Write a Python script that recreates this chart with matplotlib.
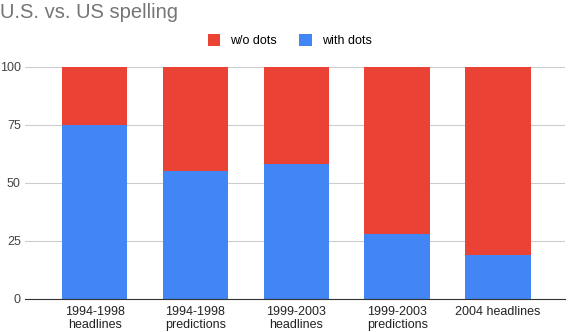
import numpy as np
import matplotlib
matplotlib.use("Agg")
import matplotlib.pyplot as plt

plt.rcParams["font.family"] = ["Liberation Sans", "DejaVu Sans"]

# data
categories = ["1994-1998\nheadlines", "1994-1998\npredictions", "1999-2003\nheadlines",
              "1999-2003\npredictions", "2004 headlines"]
with_dots = [75, 55, 58, 28, 19]
without_dots = [25, 45, 42, 72, 81]

fig = plt.figure(figsize=(5.68, 3.32), dpi=100)
ax = fig.add_axes([0.044, 0.0994, 0.95, 0.699])

x = np.arange(len(categories))
ax.bar(x, with_dots, width=0.65, color="#4285F4", label="with dots", zorder=2)
ax.bar(x, without_dots, width=0.65, bottom=with_dots, color="#EA4335", label="w/o dots", zorder=2)

ax.set_xlim(-0.69, 4.66)
ax.set_ylim(0, 100)
ax.set_yticks([0, 25, 50, 75, 100])
ax.set_xticks(x)
ax.set_xticklabels(categories, fontsize=9, color="#222222", linespacing=1.1)
ax.tick_params(axis="y", labelsize=9, labelcolor="#444444", length=0, pad=3)
ax.tick_params(axis="x", length=0, pad=5)
ax.grid(axis="y", color="#cccccc", linewidth=0.8, zorder=0)
for s in ["top", "right", "left"]:
    ax.spines[s].set_visible(False)
ax.spines["bottom"].set_color("#333333")
ax.spines["bottom"].set_zorder(3)

handles, labels = ax.get_legend_handles_labels()
fig.legend(handles[::-1], labels[::-1], loc="center", bbox_to_anchor=(0.51, 0.877), ncol=2,
           frameon=False, fontsize=9, handlelength=1.0, handleheight=1.0,
           columnspacing=1.8, handletextpad=0.8)

fig.text(0.0, 0.962, "U.S. vs. US spelling", fontsize=14.5, color="#757575", va="center", ha="left")

fig.savefig("out.png", dpi=100)
